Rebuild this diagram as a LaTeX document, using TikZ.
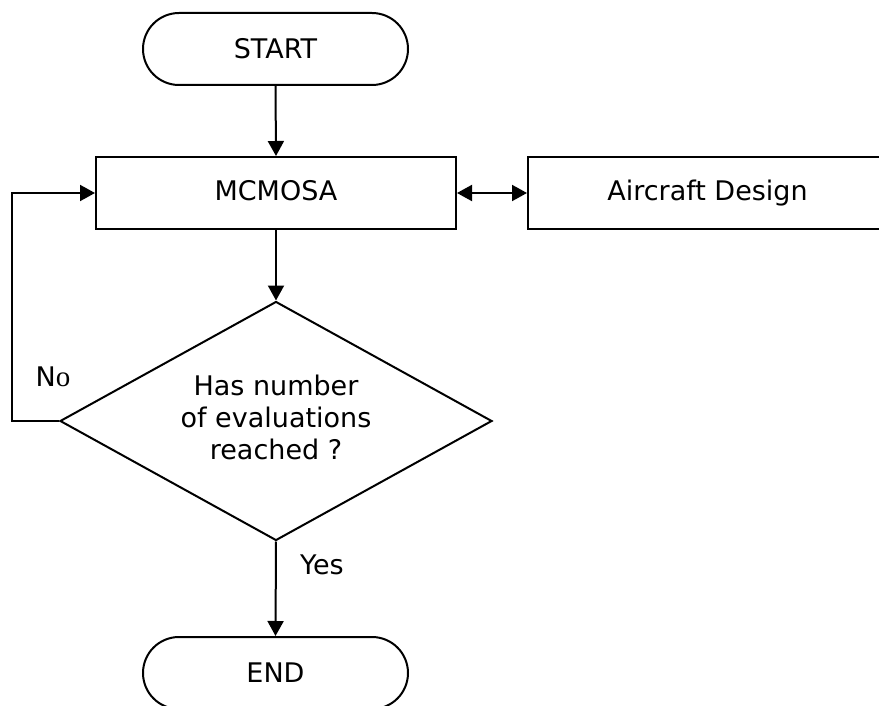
\documentclass[tikz,border=0pt]{standalone}
\usepackage{fontspec}
\setmainfont{DejaVu Sans}
\newfontfamily\serifletter{Liberation Serif}
\usetikzlibrary{shapes.geometric,arrows.meta}

\begin{document}
\begin{tikzpicture}[x=1pt,y=-1pt,
  every node/.style={font=\fontsize{27pt}{32pt}\selectfont},
  line/.style={line width=2pt},
  tip/.tip={Triangle[length=15pt,width=16pt]},
  arr/.style={line, -tip},
  darr/.style={line, tip-tip},
  terminal/.style={draw, line width=2pt, rectangle, rounded corners=36pt,
    minimum width=265pt, minimum height=72pt, inner sep=0pt},
  procbox/.style={draw, line width=2pt, rectangle,
    minimum width=360pt, minimum height=72pt, inner sep=0pt},
  decision/.style={draw, line width=2pt, diamond, shape aspect=1.8,
    minimum width=432pt, minimum height=239pt, inner sep=0pt, align=center},
  lbl/.style={inner sep=0pt}
]
\useasboundingbox (0,0) rectangle (879,706);

% terminals, process boxes and the decision
\node[terminal] (start) at (275.5,49) {START};
\node[procbox] (mcmosa) at (276,193) {\raisebox{6pt}{MCMOSA}};
\node[procbox, minimum width=359pt] (aircraft) at (707.5,193) {\raisebox{6pt}{Aircraft Design}};
\node[decision] (check) at (276,421) {\raisebox{3pt}{\begin{tabular}{c}Has number\\of evaluations\\reached ?\end{tabular}}};
\node[terminal] (end) at (275.5,673) {END};

% connectors
\draw[arr] (start.south) -- (mcmosa.north);
\draw[darr] (mcmosa.east) -- (aircraft.west);
\draw[arr] (mcmosa.south) -- (check.north);
\coordinate (loop) at (12,421);
\draw[arr] (check.west) -- (loop) |- (mcmosa.west);
\draw[arr] (check.south) -- (end.north);

% branch labels
\node[lbl] (no) at (53,377) {N{\serifletter\fontsize{29pt}{32pt}\selectfont o}};
\node[lbl, anchor=west] (yes) at (300,565) {Yes};
\end{tikzpicture}
\end{document}
